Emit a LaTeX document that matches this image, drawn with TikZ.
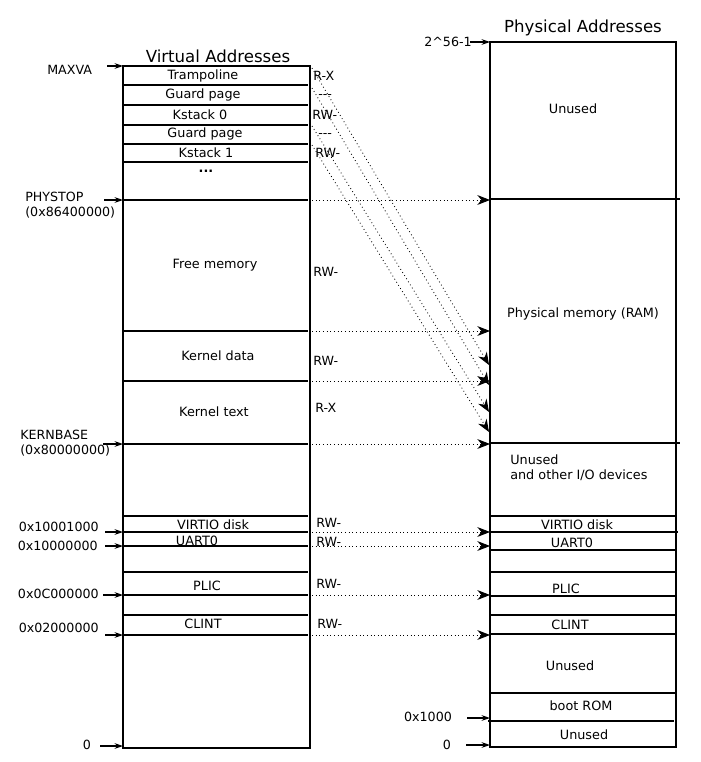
\documentclass[tikz,border=0pt]{standalone}
\usepackage{fontspec}
\setmainfont{DejaVu Sans}
\usetikzlibrary{arrows.meta,positioning}

\begin{document}
\begin{tikzpicture}[x=0.025cm, y=-0.025cm,
  lbl/.style={font=\fontsize{9.1}{10.8}\selectfont, inner sep=0pt},
  addr/.style={font=\fontsize{9}{10.6}\selectfont, inner sep=0pt},
  perm/.style={font=\fontsize{9}{10}\selectfont, inner sep=0pt, anchor=west},
  ptr/.style={-{Stealth[length=6pt, width=4pt]}, thick},
  map/.style={dotted, line width=0.6pt, -{Stealth[length=9pt, width=7pt]}}]
  \useasboundingbox (0,0) rectangle (701,762);

  % Virtual Addresses
  \draw[thick] (123,66) rectangle (310,748);
  \node[font=\fontsize{11.8}{14}\selectfont] (vtitle) at (218,56) {Virtual Addresses};
  \foreach \y in {85,105,125,144,162,200,331,381,444,516,532,546,572,595,615,635}
    \draw[thick] (123,\y) -- (308,\y);

  \node[lbl] (tramp) at (203,76) {Trampoline};
  \node[lbl] (guard0) at (203,95) {Guard page};
  \node[lbl] (kstack0) at (200,115) {Kstack 0};
  \node[lbl] (guard1) at (205,134) {Guard page};
  \node[lbl] (kstack1) at (206,153) {Kstack 1};
  \node[lbl] (vdots) at (206,171) {\textbf{...}};
  \node[lbl] (freemem) at (215,265) {Free memory};
  \node[lbl] (kdata) at (218,356) {Kernel data};
  \node[lbl] (ktext) at (214,412) {Kernel text};
  \node[lbl] (vvirtio) at (213,525) {VIRTIO disk};
  \node[lbl] (vuart) at (197,541) {UART0};
  \node[lbl] (vplic) at (207,586) {PLIC};
  \node[lbl] (vclint) at (203,624) {CLINT};

  % Rechte
  \node[perm] (ptramp) at (313,76) {R-X};
  \node[perm] (pguard0) at (318,97) {-{}-{}-};
  \node[perm] (pkstack0) at (312,115) {RW-};
  \node[perm] (pguard1) at (318,136) {-{}-{}-};
  \node[perm] (pkstack1) at (315,153) {RW-};
  \node[perm] (pfree) at (313,272) {RW-};
  \node[perm] (pdata) at (313,361) {RW-};
  \node[perm] (ptext) at (315,408) {R-X};
  \node[perm] (pvirtio) at (316,523) {RW-};
  \node[perm] (puart) at (316,542) {RW-};
  \node[perm] (pplic) at (316,584) {RW-};
  \node[perm] (pclint) at (317,624) {RW-};

  % Adressen links
  \node[addr, anchor=west] (maxva) at (47,70) {MAXVA};
  \node[addr, anchor=north west, align=left] (phystop) at (25,192) {PHYSTOP\\(0x86400000)};
  \node[addr, anchor=north west, align=left] (kernbase) at (20,430) {KERNBASE\\(0x80000000)};
  \node[addr, anchor=east] (avirtio) at (99,527) {0x10001000};
  \node[addr, anchor=east] (auart) at (98,546) {0x10000000};
  \node[addr, anchor=east] (aplic) at (99,594) {0x0C000000};
  \node[addr, anchor=east] (aclint) at (99,628) {0x02000000};
  \node[addr] (azero) at (87,745) {0};

  \foreach \n/\x/\y in {maxva/107/66, phystop/104/200, kernbase/103/444, avirtio/105/532,
                        auart/105/546, aplic/103/595, aclint/105/635, azero/100/746} {
    \coordinate (\n-t) at (\x,\y);
    \coordinate (\n-h) at (123,\y);
    \draw[ptr] (\n-t) -- (\n-h);
  }

  % Physical Addresses
  \node[font=\fontsize{11.8}{14}\selectfont] (ptitle) at (583,28) {Physical Addresses};
  \draw[thick] (490,199) -- (680,199);
  \draw[thick] (490,443) -- (680,443);
  \draw[thick] (490,532) -- (678,532);
  \draw[thick] (488,721) -- (674,721);
  \foreach \y in {516,550,572,596,615,634,693}
    \draw[thick] (490,\y) -- (676,\y);
  \draw[line width=1.6pt] (490,42) rectangle (676,747);

  \node[lbl] (unused0) at (573,109) {Unused};
  \node[lbl] (ram) at (583,314) {Physical memory (RAM)};
  \node[lbl, anchor=north west, align=left] (unusedio) at (510,454) {Unused\\and other I/O devices};
  \node[lbl] (rvirtio) at (577,525) {VIRTIO disk};
  \node[lbl] (ruart) at (572,543) {UART0};
  \node[lbl] (rplic) at (566,589) {PLIC};
  \node[lbl] (rclint) at (570,625) {CLINT};
  \node[lbl] (unused1) at (570,666) {Unused};
  \node[lbl] (bootrom) at (581,706) {boot ROM};
  \node[lbl] (unused2) at (584,735) {Unused};

  \node[addr] (ptop) at (448,42) {2\^{}56-1};
  \node[addr] (prom) at (428,717) {0x1000};
  \node[addr] (pzero) at (447,745) {0};
  \foreach \n/\x/\y in {ptop/470/42, prom/467/718, pzero/466/745} {
    \coordinate (\n-t) at (\x,\y);
    \coordinate (\n-h) at (490,\y);
    \draw[ptr] (\n-t) -- (\n-h);
  }

  % Abbildungen
  \foreach \n/\y in {phy/200, fre/331, dat/381, ker/444, vir/532, uar/546, pli/595, cli/635} {
    \coordinate (v\n) at (312,\y);
    \coordinate (p\n) at (490,\y);
    \draw[map] (v\n) -- (p\n);
  }
  \foreach \n/\ya/\yb in {a/68/365, b/88/385, c/126/412, d/145/432} {
    \coordinate (s\n) at (312,\ya);
    \coordinate (e\n) at (489,\yb);
    \draw[map] (s\n) -- (e\n);
  }
\end{tikzpicture}
\end{document}
